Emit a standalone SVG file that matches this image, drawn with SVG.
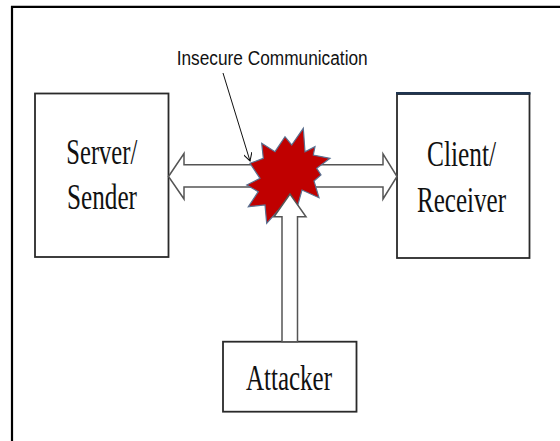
<svg xmlns="http://www.w3.org/2000/svg" width="560" height="441" viewBox="0 0 560 441">
<defs>
<style>
.box{fill:#fff;stroke:#2a2a2a;stroke-width:1.8}
.lbl{font-family:"Liberation Serif","Times New Roman",serif;font-size:35px;fill:#111;text-anchor:middle}
.fat{fill:#fff;stroke:#555;stroke-width:1.5;stroke-linejoin:miter}
</style>
<marker id="open" viewBox="0 0 10 10" refX="9" refY="5" markerWidth="9" markerHeight="9" markerUnits="userSpaceOnUse" orient="auto">
<path d="M0,0 L9,5 L0,10" fill="none" stroke="#111" stroke-width="1.2"/>
</marker>
</defs>
<rect width="560" height="441" fill="#fff"/>
<path d="M12,441 V6.8 H560" fill="none" stroke="#000" stroke-width="2.2"/>
<g id="server">
<rect class="box" x="35" y="93.5" width="133.5" height="163.5"/>
<text class="lbl" x="101.8" y="164" textLength="71" lengthAdjust="spacingAndGlyphs">Server/</text>
<text class="lbl" x="102" y="209" textLength="70" lengthAdjust="spacingAndGlyphs">Sender</text>
</g>
<g id="client">
<rect class="box" x="397" y="94" width="132.5" height="164"/>
<line x1="396" y1="93.2" x2="530.5" y2="93.2" stroke="#1f3550" stroke-width="2.6"/>
<text class="lbl" x="461.5" y="165.5" textLength="69" lengthAdjust="spacingAndGlyphs">Client/</text>
<text class="lbl" x="461.5" y="211.5" textLength="89" lengthAdjust="spacingAndGlyphs">Receiver</text>
</g>
<g id="attacker">
<rect class="box" x="223" y="341.7" width="133.5" height="70"/>
<text class="lbl" x="289" y="389.5" textLength="86" lengthAdjust="spacingAndGlyphs">Attacker</text>
</g>
<g id="connectors">
<polygon class="fat" points="168.5,176.5 184,153.5 184,164.8 383,164.8 383,153.8 397,176.5 383,199 383,187 184,187 184,199"/>
<polygon id="star" points="261.7,143.3 275,151.7 285,136.7 291.7,145 303.3,128.3 305,151.7 315,146.7 313.3,155 330,158.3 316.7,168.3 321,175 314,181 319,197.7 302,190 295,215 283,205 266.7,223.3 265,205 248.3,206.7 258.3,191.7 246.7,185 260,178.3 250,163.3 263.3,158.3" fill="#c00000" stroke="#5a7090" stroke-width="1.2" stroke-linejoin="miter"/>
<polygon class="fat" points="290,194 274,216.7 282,216.7 282,341.7 297.5,341.7 297.5,216.7 306,216.7"/>
<line x1="223" y1="73" x2="250" y2="161" stroke="#111" stroke-width="1" marker-end="url(#open)"/>
</g>
<g id="label">
<text x="176.7" y="65" font-family="'Liberation Sans',Arial,sans-serif" font-size="20" fill="#111" textLength="191" lengthAdjust="spacingAndGlyphs">Insecure Communication</text>
</g>
</svg>
